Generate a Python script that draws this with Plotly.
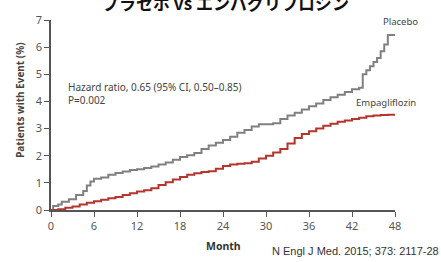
import plotly.graph_objects as go

# Kaplan-Meier style cumulative incidence (%)
placebo_month = [0, 0.3, 1, 1.5, 2.5, 3.5, 4.5, 5, 5.5, 6, 7, 8, 9, 10, 11, 12, 13, 14, 15, 16, 17, 18,
                 19, 20, 21, 22, 23, 24, 25, 26, 27, 28, 29, 30, 31, 32, 33, 34, 35, 36, 37, 38, 39,
                 40, 41, 42, 43, 43.5, 44, 44.5, 45, 45.5, 46, 46.5, 47, 48]
placebo_pct = [0, 0.15, 0.2, 0.3, 0.4, 0.55, 0.7, 0.9, 1.05, 1.15, 1.2, 1.3, 1.36, 1.42, 1.47, 1.5,
               1.55, 1.6, 1.68, 1.75, 1.85, 1.95, 2.02, 2.1, 2.25, 2.38, 2.48, 2.58, 2.7, 2.85, 2.95,
               3.08, 3.16, 3.16, 3.2, 3.35, 3.48, 3.58, 3.7, 3.82, 3.92, 4.05, 4.15, 4.25, 4.35, 4.45,
               4.5, 5.0, 5.15, 5.3, 5.45, 5.6, 5.85, 6.1, 6.45, 6.45]

empa_month = list(range(0, 49))
empa_pct = [0, 0.03, 0.08, 0.13, 0.2, 0.27, 0.32, 0.38, 0.43, 0.48, 0.55, 0.62, 0.68, 0.73, 0.8,
            0.92, 1.02, 1.12, 1.22, 1.3, 1.35, 1.4, 1.43, 1.52, 1.62, 1.68, 1.7, 1.72, 1.78, 1.9,
            2.0, 2.12, 2.25, 2.45, 2.65, 2.8, 2.9, 3.0, 3.1, 3.18, 3.25, 3.3, 3.35, 3.4, 3.45, 3.48,
            3.5, 3.51, 3.51]

x_ticks = [0, 6, 12, 18, 24, 30, 36, 42, 48]
y_ticks = [0, 1, 2, 3, 4, 5, 6, 7]

title_text = "プラセボ vs エンパグリフロジン"
hr_text = "Hazard ratio, 0.65 (95% CI, 0.50–0.85)<br>P=0.002"
citation = "N Engl J Med. 2015; 373: 2117-28"

fig = go.Figure()
fig.add_trace(go.Scatter(x=placebo_month, y=placebo_pct, mode="lines", line_shape="hv",
                         line=dict(color="#808080", width=2), name="Placebo", showlegend=False))
fig.add_trace(go.Scatter(x=empa_month, y=empa_pct, mode="lines", line_shape="hv",
                         line=dict(color="#b5352d", width=2), name="Empagliflozin", showlegend=False))

W, H = 441, 262
L, R, T, B = 51, 46, 15, 52
ph = H - T - B
pw = W - L - R

def py(pix):
    return 1 - (pix - T) / ph

def px(pix):
    return (pix - L) / pw

tick_font = dict(family="Noto Sans, DejaVu Sans", size=11, color="#555555")
fig.update_layout(
    width=W, height=H, margin=dict(l=L, r=R, t=T, b=B),
    paper_bgcolor="white", plot_bgcolor="white",
    xaxis=dict(range=[0, 48], tickvals=x_ticks, ticks="outside", ticklen=5, tickcolor="#555555",
               showline=True, linecolor="#555555", linewidth=1.5, showgrid=False, zeroline=False,
               tickfont=tick_font),
    yaxis=dict(range=[0, 7], tickvals=y_ticks, ticks="outside", ticklen=5, tickcolor="#555555",
               showline=True, linecolor="#555555", linewidth=1.5, showgrid=False, zeroline=False,
               tickfont=tick_font),
)

anns = [
    dict(text="<b>" + title_text + "</b>", x=px(225), y=py(-3), font=dict(family="Noto Sans CJK JP", size=17, color="#111111"),
         xanchor="center", yanchor="middle"),
    dict(text="<b>Patients with Event (%)</b>", x=px(20), y=py(98), textangle=-90,
         font=dict(family="Noto Sans, DejaVu Sans", size=10, color="#444444"), xanchor="center", yanchor="middle"),
    dict(text="<b>Month</b>", x=px(223), y=py(247), font=dict(family="Noto Sans, DejaVu Sans", size=10.5, color="#333333"),
         xanchor="center", yanchor="middle"),
    dict(text=citation, x=px(441), y=py(252), font=dict(family="Liberation Sans, Arial", size=11, color="#333333"),
         xanchor="right", yanchor="middle"),
    dict(text=hr_text, x=px(66), y=py(90), align="left",
         font=dict(family="Noto Sans, DejaVu Sans", size=10, color="#444444"), xanchor="left", yanchor="middle"),
    dict(text="Placebo", x=px(400), y=py(17), font=dict(family="Noto Sans, DejaVu Sans", size=9.5, color="#444444"),
         xanchor="center", yanchor="middle"),
    dict(text="Empagliflozin", x=px(386), y=py(100), font=dict(family="Noto Sans, DejaVu Sans", size=9.5, color="#444444"),
         xanchor="center", yanchor="middle"),
]
for a in anns:
    fig.add_annotation(xref="paper", yref="paper", showarrow=False, **a)

fig.write_html("out.html", config={"displayModeBar": False},
               post_script="document.body.style.margin='0';document.body.style.overflow='hidden';")
